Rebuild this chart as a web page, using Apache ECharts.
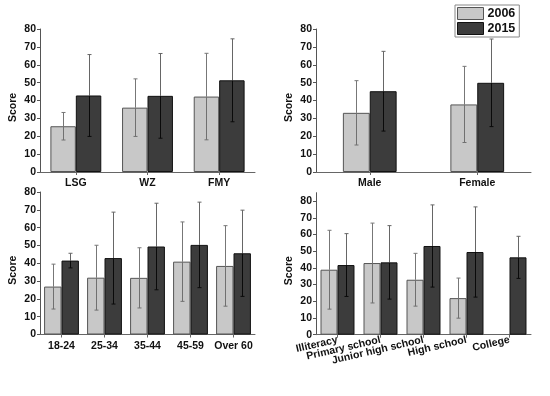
<!DOCTYPE html>
<html><head><meta charset="utf-8">
<script src="https://cdn.jsdelivr.net/npm/echarts@6/dist/echarts.min.js"></script>
<style>html,body{margin:0;padding:0;background:#fff}#c{width:550px;height:396px}</style>
</head><body><div id="c"></div>
<script>
// Panel 1: site
const cat1 = ['LSG', 'WZ', 'FMY'];
const mean06_1 = [25.6, 36.0, 42.2];
const sd06_1 = [7.7, 16.1, 24.2];
const mean15_1 = [42.8, 42.6, 51.3];
const sd15_1 = [22.9, 23.7, 23.2];
// Panel 2: gender
const cat2 = ['Male', 'Female'];
const mean06_2 = [33.1, 37.8];
const sd06_2 = [18.0, 21.3];
const mean15_2 = [45.2, 49.9];
const sd15_2 = [22.3, 24.5];
// Panel 3: age
const cat3 = ['18-24', '25-34', '35-44', '45-59', 'Over 60'];
const mean06_3 = [26.9, 31.9, 31.8, 40.9, 38.5];
const sd06_3 = [12.6, 18.2, 16.9, 22.3, 22.6];
const mean15_3 = [41.5, 42.9, 49.4, 50.3, 45.6];
const sd15_3 = [4.1, 25.8, 24.3, 24.0, 24.2];
// Panel 4: education
const cat4 = ['Illiteracy', 'Primary school', 'Junior high school', 'High school', 'College'];
const mean06_4 = [38.9, 42.9, 32.9, 21.9, null];
const sd06_4 = [23.6, 23.9, 15.8, 12.0, null];
const mean15_4 = [41.7, 43.3, 53.1, 49.5, 46.3];
const sd15_4 = [18.8, 22.0, 24.6, 27.0, 12.6];
const yTicks = [0, 10, 20, 30, 40, 50, 60, 70, 80];

const C06 = '#c8c8c8', C15 = '#3c3c3c';
const FONT = '"Liberation Sans", Arial, sans-serif';

const panels = [
  {cat: cat1, m06: mean06_1, s06: sd06_1, m15: mean15_1, s15: sd15_1, grid: {left: 40, top: 29, width: 215, height: 143}, gap: 0.29, max: 80, rot: 0},
  {cat: cat2, m06: mean06_2, s06: sd06_2, m15: mean15_2, s15: sd15_2, grid: {left: 316, top: 29, width: 215, height: 143}, gap: 0.50, max: 80, rot: 0},
  {cat: cat3, m06: mean06_3, s06: sd06_3, m15: mean15_3, s15: sd15_3, grid: {left: 40, top: 192, width: 215, height: 142.5}, gap: 0.19, max: 80, rot: 0},
  {cat: cat4, m06: mean06_4, s06: sd06_4, m15: mean15_4, s15: sd15_4, grid: {left: 316, top: 192.7, width: 215, height: 142}, gap: 0.21, max: 85, rot: 13}
];

const grids = [], xAxes = [], yAxes = [], series = [];
panels.forEach((p, i) => {
  grids.push(Object.assign({containLabel: false}, p.grid));
  xAxes.push({
    type: 'category', gridIndex: i, data: p.cat,
    axisLine: {lineStyle: {color: '#666', width: 1}},
    axisTick: {show: true, alignWithLabel: true, length: 3, lineStyle: {color: '#666'}},
    axisLabel: {color: '#111', fontWeight: 'bold', fontSize: 10.5, fontFamily: FONT, margin: p.rot ? 5 : 6, rotate: p.rot, interval: 0},
    splitLine: {show: false}
  });
  yAxes.push({
    type: 'value', gridIndex: i, min: 0, max: p.max, interval: 10,
    name: 'Score', nameLocation: 'middle', nameGap: 21, nameRotate: 90,
    nameTextStyle: {color: '#111', fontWeight: 'bold', fontSize: 10.5, fontFamily: FONT, padding: [0, 14, 0, 0]},
    axisLine: {show: true, lineStyle: {color: '#555', width: 1}},
    axisTick: {show: true, length: 3, lineStyle: {color: '#555'}},
    axisLabel: {color: '#111', fontWeight: 'bold', fontSize: 10.5, fontFamily: FONT, margin: 4, showMaxLabel: p.max === 80,
      formatter: v => (yTicks.indexOf(v) >= 0 ? String(v) : '')},
    splitLine: {show: false}
  });
  const gapPct = Math.round(p.gap * 100) + '%';
  series.push({
    name: '2006', type: 'bar', xAxisIndex: i, yAxisIndex: i, data: p.m06,
    barGap: '0%', barCategoryGap: gapPct,
    itemStyle: {color: C06, borderColor: '#555', borderWidth: 1}, z: 2
  });
  series.push({
    name: '2015', type: 'bar', xAxisIndex: i, yAxisIndex: i, data: p.m15,
    barGap: '0%', barCategoryGap: gapPct,
    itemStyle: {color: C15, borderColor: '#111', borderWidth: 1}, z: 2
  });
  [[p.m06, p.s06, -1, '#777', '#707070'], [p.m15, p.s15, 1, '#666', '#0a0a0a']].forEach(([m, s, side, colOut, colIn]) => {
    const d = p.cat.map((c, k) => m[k] == null ? [k, null, null, null] : [k, m[k] - s[k], m[k] + s[k], m[k]]);
    series.push({
      type: 'custom', xAxisIndex: i, yAxisIndex: i, data: d, z: 5, silent: true,
      renderItem: (params, api) => {
        const lo = api.value(1), hi = api.value(2), mv = api.value(3);
        if (lo == null || isNaN(lo)) return null;
        const band = api.size([1, 0])[0];
        const bw = band * (1 - p.gap) / 2;
        const pLo = api.coord([api.value(0), lo]);
        const pHi = api.coord([api.value(0), hi]);
        const pM = api.coord([api.value(0), mv]);
        const x = Math.round(pLo[0] + side * bw / 2) + 0.5;
        const cw = 2;
        return {type: 'group', children: [
          {type: 'line', shape: {x1: x, y1: pLo[1], x2: x, y2: pM[1]}, style: {stroke: colIn, lineWidth: 1}},
          {type: 'line', shape: {x1: x, y1: pM[1], x2: x, y2: pHi[1]}, style: {stroke: colOut, lineWidth: 1}},
          {type: 'line', shape: {x1: x - cw, y1: pLo[1], x2: x + cw, y2: pLo[1]}, style: {stroke: colIn, lineWidth: 1}},
          {type: 'line', shape: {x1: x - cw, y1: pHi[1], x2: x + cw, y2: pHi[1]}, style: {stroke: colOut, lineWidth: 1}}
        ]};
      },
      encode: {x: 0, y: [1, 2]}
    });
  });
});

const chart = echarts.init(document.getElementById('c'), null, {renderer: 'canvas'});
chart.setOption({
  animation: false,
  backgroundColor: '#fff',
  legend: {
    data: [
      {name: '2006', itemStyle: {color: C06, borderColor: '#555', borderWidth: 1}},
      {name: '2015', itemStyle: {color: C15, borderColor: '#111', borderWidth: 1}}
    ],
    orient: 'vertical', left: 455, top: 5,
    itemWidth: 26, itemHeight: 12, itemGap: 2,
    padding: [2, 4, 2, 2],
    backgroundColor: '#fff', borderColor: '#888', borderWidth: 1, borderRadius: 0,
    icon: 'rect',
    textStyle: {color: '#111', fontWeight: 'bold', fontSize: 12.5, fontFamily: FONT, padding: [0, 0, 0, -1]}
  },
  grid: grids, xAxis: xAxes, yAxis: yAxes, series: series
});
</script></body></html>
